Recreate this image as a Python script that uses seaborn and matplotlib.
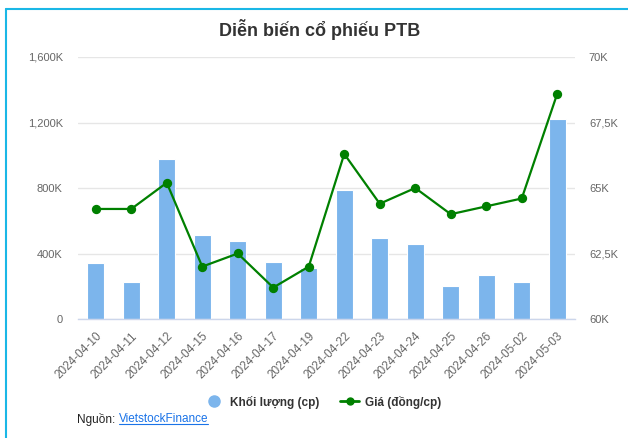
import matplotlib
import matplotlib.pyplot as plt
import pandas as pd
import seaborn as sns
from matplotlib.lines import Line2D
from matplotlib.ticker import FuncFormatter, FixedLocator

matplotlib.use("Agg")

dates = ["2024-04-10", "2024-04-11", "2024-04-12", "2024-04-15", "2024-04-16",
         "2024-04-17", "2024-04-19", "2024-04-22", "2024-04-23", "2024-04-24",
         "2024-04-25", "2024-04-26", "2024-05-02", "2024-05-03"]
volume = [341, 229, 977, 515, 478, 347, 311, 785, 497, 460, 199, 268, 225, 1220]  # nghìn cp
price = [64.2, 64.2, 65.2, 62.0, 62.5, 61.2, 62.0, 66.3, 64.4, 65.0, 64.0, 64.3, 64.6, 68.6]  # nghìn đồng
left_ticks = [0, 400, 800, 1200, 1600]
right_ticks = [60, 62.5, 65, 67.5, 70]

BAR_COLOR = "#7cb5ec"
LINE_COLOR = "#008000"
AXIS_COLOR = "#ccd6eb"
GRID_COLOR = "#e6e6e6"
LABEL_COLOR = "#666666"
FONT = ["Liberation Sans", "DejaVu Sans"]

sns.set_theme(style="white")
plt.rcParams["font.family"] = FONT

df = pd.DataFrame({"date": dates, "volume": volume, "price": price})

W, H = 628, 438
fig = plt.figure(figsize=(W / 100, H / 100), dpi=100)
ax = fig.add_axes([78 / W, 1 - 319 / H, (575 - 78) / W, (319 - 57) / H])

sns.barplot(data=df, x="date", y="volume", color=BAR_COLOR, width=0.47,
            edgecolor="white", linewidth=0.8, saturation=1, ax=ax)
ax.set_ylim(0, 1600)
ax.set_xlim(-0.5, len(dates) - 0.5)
ax.yaxis.set_major_locator(FixedLocator(left_ticks))
ax.yaxis.set_major_formatter(FuncFormatter(lambda v, p: "0" if v == 0 else f"{int(v):,}K"))
ax.grid(axis="y", color=GRID_COLOR, linewidth=1)
ax.set_axisbelow(True)
for s in ["top", "left", "right"]:
    ax.spines[s].set_visible(False)
ax.spines["bottom"].set_color(AXIS_COLOR)
ax.spines["bottom"].set_linewidth(1)
ax.set_xlabel("")
ax.set_ylabel("")
ax.tick_params(axis="y", length=0, pad=11, labelsize=8, labelcolor=LABEL_COLOR)
ax.set_xticks(range(len(dates)))
ax.set_xticklabels(dates, rotation=45, ha="right", rotation_mode="anchor")
ax.tick_params(axis="x", length=0, pad=8, labelsize=8.5, labelcolor=LABEL_COLOR)
ax.set_xticks([i - 0.5 for i in range(len(dates) + 1)], minor=True)
ax.tick_params(axis="x", which="minor", length=6, color=AXIS_COLOR, width=1, direction="out")

ax2 = ax.twinx()
sns.pointplot(data=df, x="date", y="price", color=LINE_COLOR, markers="o",
              markersize=5.5, linewidth=1.6, ax=ax2)
ax2.set_ylim(60, 70)
ax2.set_xlim(-0.5, len(dates) - 0.5)
ax2.yaxis.set_major_locator(FixedLocator(right_ticks))
ax2.yaxis.set_major_formatter(FuncFormatter(lambda v, p: (f"{v:g}".replace(".", ",")) + "K"))
ax2.tick_params(axis="y", length=0, pad=10, labelsize=8, labelcolor=LABEL_COLOR)
for s in ["top", "left", "right", "bottom"]:
    ax2.spines[s].set_visible(False)
ax2.set_xlabel("")
ax2.set_ylabel("")
ax2.grid(False)

fig.text(320 / W, 1 - 30 / H, "Diễn biến cổ phiếu PTB", ha="center", va="center",
         fontsize=13, fontweight="bold", color="#333333")

handles = [
    Line2D([], [], linestyle="none", marker="o", markersize=8, color=BAR_COLOR),
    Line2D([], [], color=LINE_COLOR, linewidth=2, marker="o", markersize=5),
]
fig.legend(handles, ["Khối lượng (cp)", "Giá (đồng/cp)"], loc="center",
           bbox_to_anchor=(323 / W, 1 - 402 / H), ncol=2, frameon=False,
           prop={"weight": "bold", "size": 8.5}, labelcolor="#333333",
           handlelength=1.6, columnspacing=1.8, handletextpad=0.5)

src = fig.text(77 / W, 1 - 419 / H, "Nguồn: ", ha="left", va="center",
               fontsize=8.5, color="#222222")
fig.canvas.draw()
link = fig.text(0, 0, "VietstockFinance", fontsize=8.5, color="#1a73e8", va="center")
bb = src.get_window_extent()
link.set_position((bb.x1 / W, 1 - 419 / H))
link_bb = link.get_window_extent(fig.canvas.get_renderer())
fig.add_artist(Line2D([link_bb.x0 / W, link_bb.x1 / W],
                      [(link_bb.y0 + 1) / H, (link_bb.y0 + 1) / H],
                      color="#1a73e8", linewidth=0.8))

# card border (left and top edges visible in the crop)
fig.add_artist(Line2D([6 / W, 6 / W], [0, 1 - 9 / H], color="#1ab7e6", linewidth=1.5))
fig.add_artist(Line2D([6 / W, 1], [1 - 9 / H, 1 - 9 / H], color="#1ab7e6", linewidth=1.5))

fig.savefig("out.png", dpi=100)
plt.close(fig)
